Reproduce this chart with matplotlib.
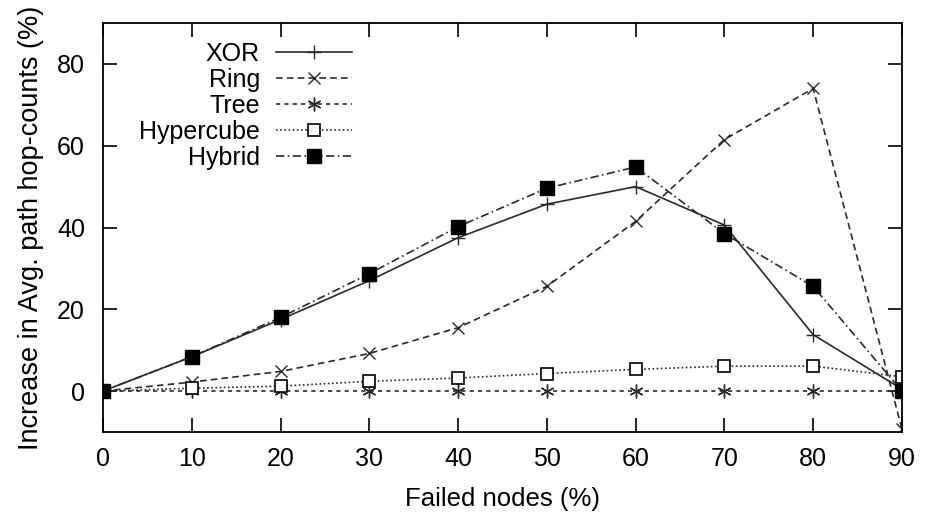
import matplotlib
matplotlib.use("Agg")
import matplotlib.pyplot as plt

plt.rcParams['font.family'] = ['Liberation Sans', 'DejaVu Sans']

failed = [0, 10, 20, 30, 40, 50, 60, 70, 80, 90]
xor = [0, 8.4, 17.5, 27.0, 37.5, 45.7, 50.0, 40.6, 13.8, 0.5]
ring = [0, 2.2, 4.8, 9.2, 15.5, 25.6, 41.5, 61.5, 74.0, -9.3]
tree = [0, 0, 0, 0, 0, 0, 0, 0, 0, 0]
hypercube = [0, 0.7, 1.2, 2.4, 3.2, 4.3, 5.3, 6.1, 6.1, 3.5]
hybrid = [0, 8.4, 18.0, 28.7, 40.2, 49.6, 54.8, 38.5, 25.6, 0]

xticks = [0, 10, 20, 30, 40, 50, 60, 70, 80, 90]
yticks = [0, 20, 40, 60, 80]

fig = plt.figure(figsize=(9.26, 5.15), dpi=100)
ax = fig.add_axes([0.1112, 0.1612, 0.8628, 0.7941])

c = '#2a2a2a'
lw = 1.2
ax.plot(failed, xor, color=c, lw=lw, ls='-', marker='+', ms=10, mew=1.0, label='XOR')
ax.plot(failed, ring, color=c, lw=lw, ls=(0, (4, 2.5)), marker='x', ms=9, mew=1.0, label='Ring')
ax.plot(failed, tree, color=c, lw=lw, ls=(0, (2.5, 2.5)), marker=(6, 2, 0), ms=10, mew=1.0, label='Tree')
ax.plot(failed, hypercube, color=c, lw=lw, ls=(0, (1, 1.5)), marker='s', ms=9, mfc='white', mec='black', mew=1.2, label='Hypercube')
ax.plot(failed, hybrid, color=c, lw=lw, ls=(0, (5, 2, 1, 2)), marker='s', ms=10, mfc='black', mec='black', label='Hybrid')

ax.set_xlim(0, 90)
ax.set_ylim(-10, 90)
ax.set_xticks(xticks)
ax.set_yticks(yticks)
ax.tick_params(direction='in', length=10, width=1.2, top=True, right=True, labelsize=18)
ax.tick_params(axis='x', pad=11)
ax.tick_params(axis='y', pad=13)
for s in ax.spines.values():
    s.set_linewidth(1.3)

ax.set_xlabel('Failed nodes (%)', fontsize=18.5, labelpad=11)
ax.set_ylabel('Increase in Avg. path hop-counts (%)', fontsize=19.5, labelpad=9)

leg = ax.legend(loc='upper right', bbox_to_anchor=(0.3116, 0.954), frameon=False, fontsize=18,
                markerfirst=False, handlelength=3.04, handletextpad=0.64, labelspacing=0.08,
                borderaxespad=0, borderpad=0)

fig.savefig('out.png', dpi=100)
